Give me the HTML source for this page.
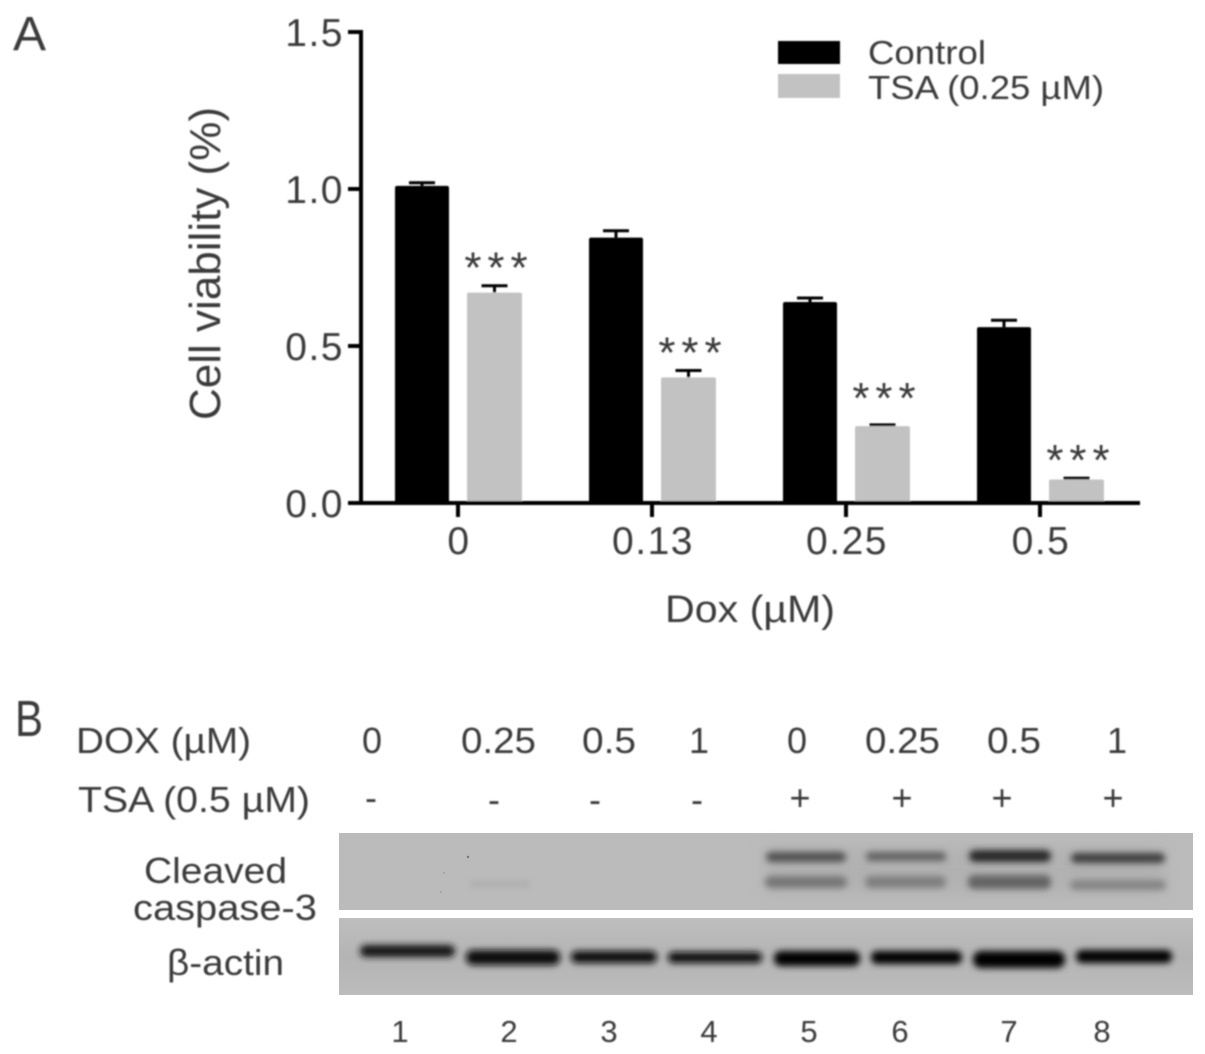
<!DOCTYPE html>
<html lang="en">
<head>
<meta charset="utf-8">
<title>Cell viability and western blot figure</title>
<style>
html,body{margin:0;padding:0;background:#fff;}
#figure{display:block;width:1205px;height:1054px;font-family:"Liberation Sans",sans-serif;}
text{fill:#3a3a3a;}
.lab{font-size:36px;}
</style>
</head>
<body>
<svg id="figure" xmlns="http://www.w3.org/2000/svg" width="1205" height="1054" viewBox="0 0 1205 1054">
<defs>
<filter id="soft" x="-5%" y="-5%" width="110%" height="110%"><feGaussianBlur stdDeviation="0.7"/></filter>
<filter id="band" x="-20%" y="-80%" width="140%" height="260%"><feGaussianBlur stdDeviation="3"/></filter>
<filter id="bandTight" x="-20%" y="-100%" width="140%" height="300%"><feGaussianBlur stdDeviation="3.4"/></filter>
<filter id="halo" x="-20%" y="-100%" width="140%" height="300%"><feGaussianBlur stdDeviation="8"/></filter>
<linearGradient id="actinBg" x1="0" x2="0" y1="0" y2="1"><stop offset="0" stop-color="#bebebe"/><stop offset="0.5" stop-color="#b4b4b4"/><stop offset="1" stop-color="#bcbcbc"/></linearGradient>
</defs>

<text x="13" y="50" font-size="48" textLength="33" lengthAdjust="spacingAndGlyphs" filter="url(#soft)">A</text>
<g id="chart" filter="url(#soft)"></g>

<text x="15" y="736" font-size="51" textLength="28" lengthAdjust="spacingAndGlyphs" filter="url(#soft)">B</text>

<g filter="url(#soft)">
<text class="lab" x="76" y="753" textLength="175" lengthAdjust="spacingAndGlyphs">DOX (µM)</text>
<text class="lab" x="78" y="812" textLength="232" lengthAdjust="spacingAndGlyphs">TSA (0.5 µM)</text>
<text class="lab" x="372" y="753" text-anchor="middle">0</text>
<text class="lab" x="461" y="753" textLength="75" lengthAdjust="spacingAndGlyphs">0.25</text>
<text class="lab" x="582" y="753" textLength="54" lengthAdjust="spacingAndGlyphs">0.5</text>
<text class="lab" x="699" y="753" text-anchor="middle">1</text>
<text class="lab" x="797" y="753" text-anchor="middle">0</text>
<text class="lab" x="865" y="753" textLength="75" lengthAdjust="spacingAndGlyphs">0.25</text>
<text class="lab" x="987" y="753" textLength="54" lengthAdjust="spacingAndGlyphs">0.5</text>
<text class="lab" x="1117" y="753" text-anchor="middle">1</text>
<text class="lab" x="371" y="810" text-anchor="middle">-</text>
<text class="lab" x="494" y="812" text-anchor="middle">-</text>
<text class="lab" x="595" y="812" text-anchor="middle">-</text>
<text class="lab" x="697" y="812" text-anchor="middle">-</text>
<text class="lab" x="800" y="810" text-anchor="middle">+</text>
<text class="lab" x="902" y="810" text-anchor="middle">+</text>
<text class="lab" x="1002" y="810" text-anchor="middle">+</text>
<text class="lab" x="1113" y="810" text-anchor="middle">+</text>
<text class="lab" x="144" y="883" textLength="143" lengthAdjust="spacingAndGlyphs">Cleaved</text>
<text class="lab" x="133" y="920" textLength="184" lengthAdjust="spacingAndGlyphs">caspase-3</text>
<text class="lab" x="167" y="975" textLength="117" lengthAdjust="spacingAndGlyphs">β-actin</text>
</g>

<g>
<rect x="339" y="833" width="854" height="77" fill="#bbbbbb"/>
<g filter="url(#halo)" opacity="0.5">
<rect x="765" y="848" width="400" height="45" fill="#a8a8a8"/>
</g>
<g filter="url(#band)">
<rect x="469" y="880" width="62" height="8" rx="4" fill="#b0b0b0"/>
</g>
<g filter="url(#bandTight)">
<rect x="766" y="852" width="80" height="10" rx="5" fill="#505050"/>
<rect x="866" y="852" width="80" height="9" rx="4" fill="#606060"/>
<rect x="969" y="850" width="82" height="12" rx="6" fill="#282828"/>
<rect x="1071" y="853" width="94" height="10" rx="5" fill="#3c3c3c"/>
<rect x="765" y="876" width="82" height="12" rx="6" fill="#767676"/>
<rect x="865" y="876" width="81" height="12" rx="6" fill="#7e7e7e"/>
<rect x="968" y="875" width="83" height="14" rx="6" fill="#646464"/>
<rect x="1070" y="880" width="96" height="10" rx="5" fill="#848484"/>
</g>
<circle cx="468" cy="857" r="1.2" fill="#777"/>
<circle cx="444" cy="873" r="0.9" fill="#999"/>
<circle cx="441" cy="892" r="0.9" fill="#999"/>
</g>

<g>
<rect x="339" y="918" width="854" height="77" fill="url(#actinBg)"/>
<g filter="url(#bandTight)">
<rect x="360" y="945" width="95" height="12" rx="6" fill="#141414"/>
<rect x="466" y="950" width="94" height="15" rx="7" fill="#101010"/>
<rect x="571" y="951" width="86" height="12" rx="6" fill="#0e0e0e"/>
<rect x="668" y="952" width="94" height="11" rx="5" fill="#0a0a0a"/>
<rect x="774" y="951" width="86" height="15" rx="7" fill="#040404"/>
<rect x="871" y="951" width="91" height="13" rx="6" fill="#040404"/>
<rect x="973" y="951" width="92" height="17" rx="8" fill="#000"/>
<rect x="1076" y="950" width="96" height="13" rx="6" fill="#020202"/>
</g>
</g>

<g font-size="31" filter="url(#soft)">
<text x="400" y="1042" text-anchor="middle">1</text>
<text x="509" y="1042" text-anchor="middle">2</text>
<text x="609" y="1042" text-anchor="middle">3</text>
<text x="709" y="1042" text-anchor="middle">4</text>
<text x="809" y="1042" text-anchor="middle">5</text>
<text x="900" y="1042" text-anchor="middle">6</text>
<text x="1009" y="1042" text-anchor="middle">7</text>
<text x="1102" y="1042" text-anchor="middle">8</text>
</g>

<script>
var categories = ["0", "0.13", "0.25", "0.5"];
var controlValues = [1.01, 0.845, 0.64, 0.56];
var tsaValues = [0.67, 0.4, 0.245, 0.075];
var controlErrors = [0.01, 0.022, 0.013, 0.022];
var tsaErrors = [0.022, 0.022, 0.004, 0.004];
var significance = ["***", "***", "***", "***"];
var yTicks = [0, 0.5, 1, 1.5];
var yTickLabels = ["0.0", "0.5", "1.0", "1.5"];

var SVGNS = "http://www.w3.org/2000/svg";
var chart = document.getElementById("chart");
function yScale(v) { return 503 - v * 314; }
function xScale(i) { return 458 + i * 194; }
function make(tag, attrs) {
  var node = document.createElementNS(SVGNS, tag);
  for (var k in attrs) { node.setAttribute(k, attrs[k]); }
  chart.appendChild(node);
  return node;
}
function errorBar(cx, value, err, label) {
  var top = yScale(value + err);
  var stem = make("line", {x1: cx, x2: cx, y1: yScale(value), y2: top, stroke: "#000", "stroke-width": 3});
  
  
  var cap = make("line", {x1: cx - 13, x2: cx + 13, y1: top, y2: top, stroke: "#000", "stroke-width": 3});
  
  
}
categories.forEach(function (cat, i) {
  var c = xScale(i);
  errorBar(c - 36, controlValues[i], controlErrors[i], "control-" + cat);
  errorBar(c + 36.5, tsaValues[i], tsaErrors[i], "tsa-" + cat);

  var blackBar = make("rect", {x: c - 63, y: yScale(controlValues[i]), width: 54, height: yScale(0) - yScale(controlValues[i]), rx: 2, fill: "#000"});
  
  

  var grayBar = make("rect", {x: c + 9, y: yScale(tsaValues[i]), width: 55, height: yScale(0) - yScale(tsaValues[i]), rx: 2, fill: "#c2c2c2"});
  
  

  var starLift = i === 2 ? 12 : 3;
  var stars = make("text", {x: c + 41, y: yScale(tsaValues[i] + tsaErrors[i]) - starLift, "font-size": 44, "text-anchor": "middle", "letter-spacing": 6});
  stars.textContent = significance[i];
  
  

  var tick = make("line", {x1: c, x2: c, y1: 503, y2: 517, stroke: "#000", "stroke-width": 4});
  
  

  var tickLabel = make("text", {x: c + 1, y: 554, "font-size": 39, "text-anchor": "middle", "letter-spacing": 1.5});
  tickLabel.textContent = cat;
  
  
});
yTicks.forEach(function (t, i) {
  var tick = make("line", {x1: 348, x2: 363, y1: yScale(t), y2: yScale(t), stroke: "#000", "stroke-width": 4});
  
  

  var tickLabel = make("text", {x: 344, y: yScale(t) + 14, "font-size": 39, "text-anchor": "end", "letter-spacing": 1.5});
  tickLabel.textContent = yTickLabels[i];
  
  
});
var yAxis = make("line", {x1: 361, x2: 361, y1: yScale(1.5) - 2, y2: yScale(0) + 2, stroke: "#000", "stroke-width": 4});


var xAxis = make("line", {x1: 348, x2: 1140, y1: yScale(0), y2: yScale(0), stroke: "#000", "stroke-width": 4});



var yTitle = make("text", {transform: "translate(220,420) rotate(-90)", "font-size": 44, textLength: 313, lengthAdjust: "spacingAndGlyphs"});
yTitle.textContent = "Cell viability (%)";



var xTitle = make("text", {x: 665, y: 622, "font-size": 38, textLength: 170, lengthAdjust: "spacingAndGlyphs"});
xTitle.textContent = "Dox (µM)";



var swatchControl = make("rect", {x: 778, y: 41, width: 62, height: 23, fill: "#000"});


var labelControl = make("text", {x: 868, y: 64, "font-size": 33, textLength: 118, lengthAdjust: "spacingAndGlyphs"});
labelControl.textContent = "Control";


var swatchTsa = make("rect", {x: 778, y: 74, width: 62, height: 24, fill: "#c2c2c2"});


var labelTsa = make("text", {x: 868, y: 99, "font-size": 33, textLength: 236, lengthAdjust: "spacingAndGlyphs"});
labelTsa.textContent = "TSA (0.25 µM)";


</script>
</svg>
</body>
</html>
